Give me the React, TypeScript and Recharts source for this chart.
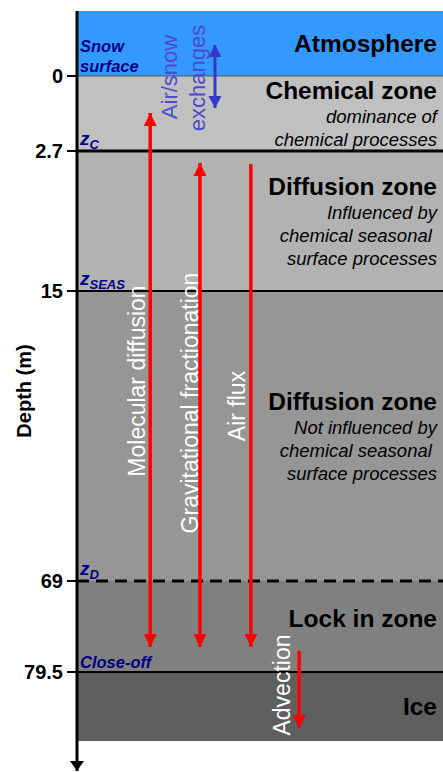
import React from "react";
import {
  ComposedChart,
  XAxis,
  YAxis,
  Line,
  ReferenceArea,
  ReferenceLine,
  ReferenceDot,
} from "recharts";

const FONT = '"Liberation Sans", Arial, sans-serif';

// depth axis: tick labels (m) and where they sit on the schematic (non-linear) scale
const depthLabels = ["0", "2.7", "15", "69", "79.5"];
const depthPos = [6.5, 14.0, 28.0, 57.0, 66.1];
const boundaryNames = ["Snow surface", "z_C", "z_SEAS", "z_D", "Close-off"];

// zones, top to bottom
const zoneNames = ["Atmosphere", "Chemical zone", "Diffusion zone", "Diffusion zone", "Lock in zone", "Ice"];
const zoneNotes = [
  [],
  ["dominance of", "chemical processes"],
  ["Influenced by", "chemical seasonal\u00a0", "surface processes"],
  ["Not influenced by", "chemical seasonal\u00a0", "surface processes"],
  [],
  [],
];
const zoneTop = [0, ...depthPos];
const zoneBottom = [...depthPos, 73.0];

// transport processes (red arrows)
const processNames = ["Molecular diffusion", "Gravitational fractionation", "Air flux", "Advection"];
const processX = [20.0, 33.6, 47.5, 60.7];
const processFrom = [10.2, 15.2, 15.3, 64.0];
const processTo = [63.6, 63.6, 63.6, 71.7];
const processTwoWay = [true, true, false, false];
const processLabelX = [16.4, 30.9, 43.7, 56.0];
const processLabelY = [37.0, 39.2, 39.5, 67.4];

// air/snow exchange (blue arrow)
const exchangeNames = ["Air/snow", "exchanges"];
const exchangeLabelX = [25.4, 32.8];
const exchangeLabelY = [6.6, 6.7];
const exchangeX = 37.7;
const exchangeFrom = 3.4;
const exchangeTo = 9.7;

const ZONE_FILL = ["#3399ff", "#c0c0c0", "#b2b2b2", "#969696", "#808080", "#5f5f5f"];
const TITLE_NUDGE = [0, 0, 0, 0, -8, 0];
const LINE_STYLE = [
  { stroke: "#555", strokeWidth: 1 },
  { stroke: "#000", strokeWidth: 3 },
  { stroke: "#000", strokeWidth: 2 },
  { stroke: "#000", strokeWidth: 3, strokeDasharray: "12 7" },
  { stroke: "#000", strokeWidth: 2 },
];

function ZoneLabel(props: any) {
  const { viewBox, index } = props;
  const { x, y, width, height } = viewBox;
  const notes = zoneNotes[index];
  const right = x + width - 6;
  const block = notes.length ? 17 + 24 + 23 * (notes.length - 1) : 17;
  const base = y + height / 2 - block / 2 + 17 + TITLE_NUDGE[index];
  return (
    <g fontFamily={FONT} textAnchor="end">
      <text x={right} y={base} fontSize={24.5} fontWeight="bold" fill="#000">
        {zoneNames[index]}
      </text>
      {notes.map((n, i) => (
        <text key={i} x={right} y={base + 24 + 23 * i} fontSize={18.5} fontStyle="italic" fill="#000">
          {n}
        </text>
      ))}
    </g>
  );
}

function BoundaryLabel(props: any) {
  const { viewBox, index } = props;
  const x = viewBox.x + 3;
  const y = viewBox.y;
  const name = boundaryNames[index];
  const common = { fontFamily: FONT, fontWeight: "bold", fontStyle: "italic", fill: "#000080" };
  if (name.startsWith("z_")) {
    return (
      <text x={x} y={y - 6} {...common} fontSize={19}>
        z
        <tspan dy={4} fontSize={13}>
          {name.slice(2)}
        </tspan>
      </text>
    );
  }
  const words = name === "Snow surface" ? ["Snow", "surface"] : [name];
  return (
    <g>
      {words.map((w, i) => (
        <text key={i} x={x} y={y - 4 - 20 * (words.length - 1 - i)} {...common} fontSize={16.5}>
          {w}
        </text>
      ))}
    </g>
  );
}

const rotatedText = (label: string, fill: string, size: number) => (p: any) => (
  <text
    x={p.cx}
    y={p.cy}
    transform={`rotate(-90 ${p.cx} ${p.cy})`}
    textAnchor="middle"
    dominantBaseline="central"
    fontFamily={FONT}
    fontSize={size}
    fill={fill}
  >
    {label}
  </text>
);

function DepthLabel(props: any) {
  const { viewBox } = props;
  const cx = viewBox.x + 24;
  const cy = viewBox.y + viewBox.height / 2;
  return (
    <text
      x={cx}
      y={cy}
      transform={`rotate(-90 ${cx} ${cy})`}
      textAnchor="middle"
      dominantBaseline="central"
      fontFamily={FONT}
      fontSize={20}
      fontWeight="bold"
      fill="#000"
    >
      Depth (m)
    </text>
  );
}

export default function App() {
  return (
    <div style={{ position: "absolute", left: 0, top: 0 }}>
      <ComposedChart width={443} height={772} margin={{ top: 11, right: 0, bottom: 1, left: 0 }}>
        <defs>
          <marker id="headRed" viewBox="0 0 13 13" refX={13} refY={6.5} markerWidth={13} markerHeight={13}
            markerUnits="userSpaceOnUse" orient="auto-start-reverse">
            <path d="M0,0 L13,6.5 L0,13 Z" fill="#ff0000" />
          </marker>
          <marker id="headBlue" viewBox="0 0 12 13" refX={12} refY={6.5} markerWidth={12} markerHeight={13}
            markerUnits="userSpaceOnUse" orient="auto-start-reverse">
            <path d="M0,0 L12,6.5 L0,13 Z" fill="#3636cc" />
          </marker>
          <marker id="headBlack" viewBox="0 0 10 14" refX={10} refY={7} markerWidth={10} markerHeight={14}
            markerUnits="userSpaceOnUse" orient="auto">
            <path d="M0,0 L10,7 L0,14 Z" fill="#000" />
          </marker>
        </defs>
        <XAxis type="number" dataKey="x" domain={[0, 100]} hide />
        <YAxis
          type="number"
          dataKey="y"
          domain={[0, 76]}
          reversed
          width={77}
          ticks={depthPos}
          interval={0}
          tickFormatter={(v: number) => depthLabels[depthPos.indexOf(v)]}
          tick={{ fill: "#000", fontSize: 20, fontWeight: "bold", fontFamily: FONT }}
          tickLine={{ stroke: "#000", strokeWidth: 2 }}
          tickSize={10}
          tickMargin={4}
          axisLine={{ stroke: "#000", strokeWidth: 3, markerEnd: "url(#headBlack)" }}
          label={(p: any) => <DepthLabel {...p} />}
        />

        {zoneNames.map((n, i) => (
          <ReferenceArea
            key={"z" + i}
            y1={zoneTop[i]}
            y2={zoneBottom[i]}
            fill={ZONE_FILL[i]}
            fillOpacity={1}
            stroke="none"
            label={(p: any) => <ZoneLabel {...p} index={i} />}
          />
        ))}

        {depthPos.map((d, i) => (
          <ReferenceLine
            key={"b" + i}
            y={d}
            {...LINE_STYLE[i]}
            label={(p: any) => <BoundaryLabel {...p} index={i} />}
          />
        ))}

        {processNames.map((n, i) => (
          <Line
            key={"p" + i}
            data={[
              { x: processX[i], y: processFrom[i] },
              { x: processX[i], y: processTo[i] },
            ]}
            dataKey="y"
            stroke="#ff0000"
            strokeWidth={3.5}
            dot={false}
            activeDot={false}
            markerEnd="url(#headRed)"
            markerStart={processTwoWay[i] ? "url(#headRed)" : undefined}
            isAnimationActive={false}
          />
        ))}
        <Line
          data={[
            { x: exchangeX, y: exchangeFrom },
            { x: exchangeX, y: exchangeTo },
          ]}
          dataKey="y"
          stroke="#3636cc"
          strokeWidth={3}
          dot={false}
          activeDot={false}
          markerEnd="url(#headBlue)"
          markerStart="url(#headBlue)"
          isAnimationActive={false}
        />

        {processNames.map((n, i) => (
          <ReferenceDot
            key={"pl" + i}
            x={processLabelX[i]}
            y={processLabelY[i]}
            r={0}
            shape={rotatedText(n, "#ffffff", 23)}
          />
        ))}
        {exchangeNames.map((n, i) => (
          <ReferenceDot
            key={"el" + i}
            x={exchangeLabelX[i]}
            y={exchangeLabelY[i]}
            r={0}
            shape={rotatedText(n, "#4b4bcc", 22)}
          />
        ))}
      </ComposedChart>
    </div>
  );
}
